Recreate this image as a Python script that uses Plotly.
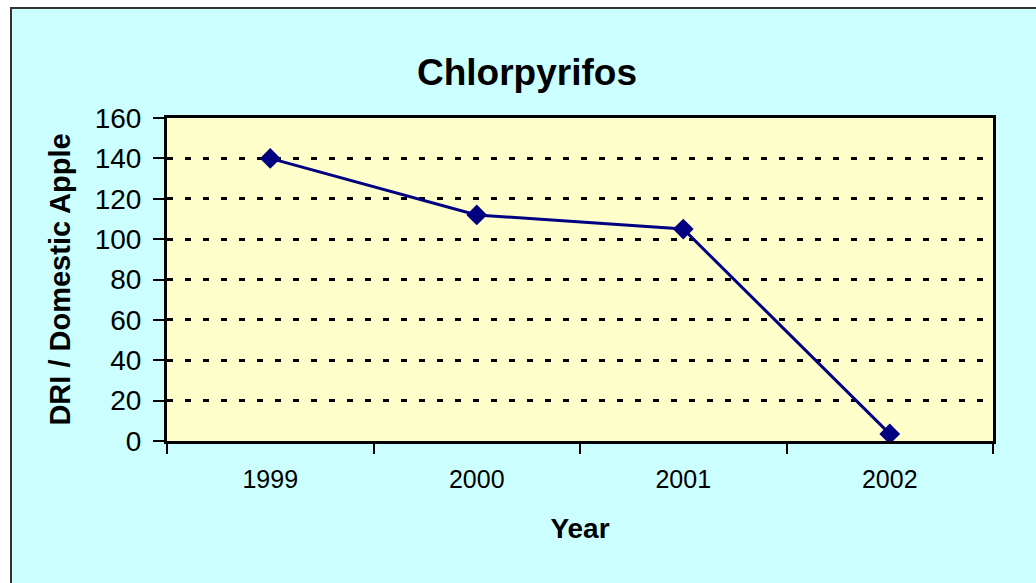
import plotly.graph_objects as go

years = [1999, 2000, 2001, 2002]
values = [140, 112, 105, 3.5]
y_ticks = [0, 20, 40, 60, 80, 100, 120, 140, 160]

W, H = 1036, 583
L, R, T, B = 167, 43, 118, 142
pw, ph = W - L - R, H - T - B

fig = go.Figure()
fig.add_trace(go.Scatter(
    x=years, y=values, mode="lines+markers",
    line=dict(color="#000080", width=3),
    marker=dict(symbol="diamond", size=16, color="#000080"),
    showlegend=False,
))

font = "Liberation Sans, Arial, sans-serif"

fig.update_layout(
    width=W, height=H,
    margin=dict(l=L, r=R, t=T, b=B),
    paper_bgcolor="white",
    plot_bgcolor="rgba(0,0,0,0)",
    font=dict(family=font, color="black"),
    title=dict(text="<b>Chlorpyrifos</b>", x=527 / W, xref="container", xanchor="center",
               y=1 - 72 / H, yref="container", yanchor="middle",
               font=dict(size=37, color="black", family=font)),
    xaxis=dict(
        range=[1998.5, 2002.5], tickvals=years, ticktext=[str(y) for y in years],
        ticks="", showgrid=False, zeroline=False,
        showline=True, linecolor="black", linewidth=3, mirror=True,
        tickfont=dict(size=25), ticklabelstandoff=14,
        minor=dict(ticks="outside", tick0=1998.5, dtick=1, ticklen=10, tickwidth=2,
                   tickcolor="black", showgrid=False),
        title=dict(text="<b>Year</b>", font=dict(size=28), standoff=27),
    ),
    yaxis=dict(
        range=[0, 160], tickvals=y_ticks, ticks="outside", ticklen=11, tickwidth=2,
        tickcolor="black", showgrid=True, gridcolor="black", griddash="6px,12px",
        gridwidth=2.5, zeroline=False,
        showline=True, linecolor="black", linewidth=3, mirror=True,
        tickfont=dict(size=28), ticklabelstandoff=6,
        title=dict(text="<b>DRI / Domestic Apple</b>", font=dict(size=29), standoff=16),
    ),
    shapes=[
        dict(type="rect", xref="paper", yref="paper", layer="below",
             x0=(11 - L) / pw, x1=(W + 20 - L) / pw,
             y0=-(B + 20) / ph, y1=(H - B - 8) / ph,
             fillcolor="#CCFFFF", line=dict(color="#333333", width=2)),
        dict(type="rect", xref="paper", yref="paper", layer="below",
             x0=0, x1=1, y0=0, y1=1, fillcolor="#FFFFCC", line=dict(width=0)),
    ],
)

fig.write_html("out.html", config={"displayModeBar": False},
               post_script="document.body.style.margin='0';")
